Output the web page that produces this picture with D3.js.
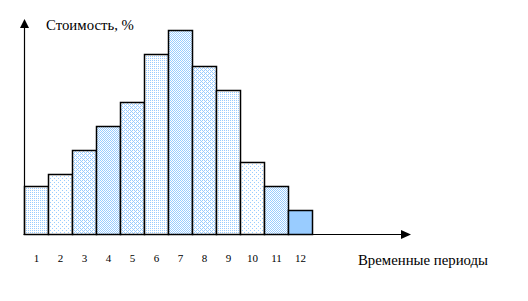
<!DOCTYPE html>
<html><head><meta charset="utf-8">
<script src="https://cdn.jsdelivr.net/npm/d3@7"></script>
<style>
html,body{margin:0;padding:0;background:#fff;}
svg{display:block;}
text{font-family:"Liberation Serif","Times New Roman",serif;fill:#000;}
</style></head>
<body>
<svg id="chart" width="528" height="301"></svg>
<script>
const periods = ["1","2","3","4","5","6","7","8","9","10","11","12"];
const costValues = [4, 5, 7, 9, 11, 15, 17, 14, 12, 6, 4, 2];
const fillPatterns = ["p25","p12","p37","p50","p37","p25","p50","p37","p25","p12","p50","solid"];
const yTitle = "Стоимость, %";
const xTitle = "Временные периоды";

const svg = d3.select("#chart");
const blue = "#99ccff";

// patterns
const defs = svg.append("defs");
function pat(id, size, cells){
  const p = defs.append("pattern").attr("id", id).attr("patternUnits","userSpaceOnUse")
    .attr("width", size).attr("height", size);
  p.append("rect").attr("width", size).attr("height", size).attr("fill", "#fff");
  cells.forEach(c => p.append("rect").attr("x", c[0]).attr("y", c[1]).attr("width",1).attr("height",1).attr("fill", blue));
}
pat("p25", 2, [[0,0]]);
pat("p12", 4, [[0,0],[2,2]]);
pat("p37", 4, [[0,0],[2,0],[1,1],[0,2],[2,2],[3,3]]);
pat("p50", 2, [[0,0],[1,1]]);

const x0 = 24.5, baseY = 234.5;
const x = d3.scaleBand().domain(periods).range([x0, x0 + 24 * periods.length]).padding(0);
const y = d3.scaleLinear().domain([0, 17]).range([baseY, 30.5]);

// bars
svg.append("g").selectAll("rect").data(periods).join("rect")
  .attr("x", d => x(d))
  .attr("y", (d,i) => y(costValues[i]))
  .attr("width", x.bandwidth())
  .attr("height", (d,i) => baseY - y(costValues[i]))
  .attr("fill", (d,i) => fillPatterns[i] === "solid" ? blue : `url(#${fillPatterns[i]})`)
  .attr("stroke", "#000")
  .attr("stroke-width", 1.5);

// axes lines
svg.append("line").attr("x1", x0).attr("x2", x0).attr("y1", baseY).attr("y2", 26)
  .attr("stroke", "#000").attr("stroke-width", 1.2);
svg.append("path").attr("d", `M${x0},19 L${x0-4.5},28 L${x0+4.5},28 Z`).attr("fill", "#000");
svg.append("line").attr("x1", x0 - 1).attr("x2", 402).attr("y1", baseY).attr("y2", baseY)
  .attr("stroke", "#000").attr("stroke-width", 1.2);
svg.append("path").attr("d", `M411,${baseY} L401,${baseY-4.5} L401,${baseY+4.5} Z`).attr("fill", "#000");

// tick labels
svg.append("g").selectAll("text").data(periods).join("text")
  .attr("x", d => x(d) + x.bandwidth()/2)
  .attr("y", 262)
  .attr("text-anchor", "middle")
  .attr("font-size", 11)
  .text(d => d);

// titles
svg.append("text").attr("x", 46).attr("y", 30).attr("font-size", 14.8).text(yTitle);
svg.append("text").attr("x", 358).attr("y", 265).attr("font-size", 14.8).text(xTitle);
</script>
</body></html>
